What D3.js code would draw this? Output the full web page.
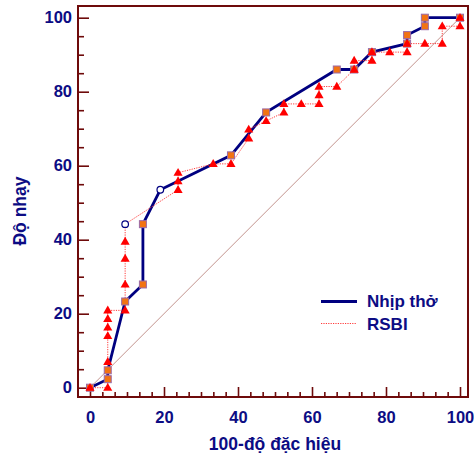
<!DOCTYPE html>
<html>
<head>
<meta charset="utf-8">
<script src="https://cdn.jsdelivr.net/npm/d3@7"></script>
<style>
  body { margin: 0; background: #fff; }
  svg { display: block; font-family: "Liberation Sans", Arial, sans-serif; }
</style>
</head>
<body>
<div id="chart"></div>
<script>
// Nhip tho: ROC curve (100 - specificity, sensitivity)
let nhipX = [0, 4.8, 4.8, 9.5, 14.3, 14.3, 19, 38.1, 47.6, 66.7, 71.4, 76.2, 85.7, 85.7, 90.5, 90.5, 100];
let nhipY = [0, 2.3, 4.7, 23.3, 27.9, 44.2, 53.5, 62.8, 74.4, 86, 86, 90.7, 93, 95.3, 97.7, 100, 100];
let nhipCut = 6; // index of the open circle (cut-off point)

// RSBI: ROC curve
let rsbiX = [0, 4.8, 4.8, 4.8, 4.8, 4.8, 4.8, 9.5, 9.5, 9.5, 9.5, 9.5, 23.8, 23.8, 23.8, 33.3, 38.1, 42.9, 42.9,
             47.6, 52.4, 52.4, 57.1, 61.9, 61.9, 61.9, 66.7, 71.4, 71.4, 76.2, 76.2, 81, 85.7, 85.7, 90.5, 95.2, 95.2, 100, 100];
let rsbiY = [0, 0, 7, 14, 16.3, 18.6, 20.9, 20.9, 27.9, 34.9, 39.5, 44.2, 53.5, 55.8, 58.1, 60.5, 60.5, 67.4, 69.8,
             72.1, 74.4, 76.7, 76.7, 76.7, 79.1, 81.4, 81.4, 86, 88.4, 88.4, 90.7, 90.7, 90.7, 93, 93, 93, 97.7, 97.7, 100];
let rsbiCut = 11;

let majorTicks = [0, 20, 40, 60, 80, 100];
let legendNames = ["Nhịp thở", "RSBI"];

let navy = "#000080";
let textColour = "#0c0c84";
let frameColour = "#6e0a0a";
let redColour = "#ff0000";
let dotColour = "#ff3a3a";

const width = 474, height = 455;
const box = {left: 78, right: 468, top: 6, bottom: 397};

var svg = d3.select("#chart").append("svg")
    .attr("width", width)
    .attr("height", height);

var x = d3.scaleLinear().domain([0, 100]).range([90, 460]);
var y = d3.scaleLinear().domain([0, 100]).range([387.7, 17.7]);

let xMinor = d3.range(0, 101, 20).flatMap(m => [1, 2, 3, 4, 5].map(k => m + k * 20 / 6)).filter(v => v < 102);
let yMinor = d3.range(5, 101, 5).filter(v => v % 20 != 0);

// axes (ticks point inward)
var gx = svg.append("g").attr("transform", "translate(0," + box.bottom + ")");
gx.call(d3.axisBottom(x).tickValues(majorTicks).tickSize(-10).tickPadding(14));
gx.append("g").call(d3.axisBottom(x).tickValues(xMinor).tickSize(-5).tickFormat(""));

var gy = svg.append("g").attr("transform", "translate(" + box.left + ",0)");
gy.call(d3.axisLeft(y).tickValues(majorTicks).tickSize(-11).tickPadding(6));
gy.append("g").call(d3.axisLeft(y).tickValues(yMinor).tickSize(-6).tickFormat(""));

svg.selectAll(".domain").remove();
svg.selectAll(".tick line").attr("stroke", frameColour).attr("stroke-width", 1.6);
svg.selectAll(".tick text")
    .attr("fill", textColour)
    .style("font-size", "16.5px")
    .style("font-weight", "bold")
    .style("font-family", "'Liberation Sans', Arial, sans-serif");

// frame
svg.append("rect")
    .attr("x", box.left).attr("y", box.top)
    .attr("width", box.right - box.left).attr("height", box.bottom - box.top)
    .attr("fill", "none")
    .attr("stroke", frameColour)
    .attr("stroke-width", 2);

// diagonal reference
svg.append("line")
    .attr("x1", x(0)).attr("y1", y(0))
    .attr("x2", x(100)).attr("y2", y(100))
    .attr("stroke", "#a8645c")
    .attr("stroke-width", 0.7);

var line = d3.line().x(d => x(d[0])).y(d => y(d[1]));
let nhip = nhipX.map((v, i) => [v, nhipY[i]]);
let rsbi = rsbiX.map((v, i) => [v, rsbiY[i]]);

svg.append("path")
    .attr("d", line(nhip))
    .attr("fill", "none")
    .attr("stroke", navy)
    .attr("stroke-width", 2.8);

svg.append("path")
    .attr("d", line(rsbi))
    .attr("fill", "none")
    .attr("stroke", dotColour)
    .attr("stroke-width", 1)
    .attr("stroke-dasharray", "1.2,1.2");

// squares on nhip tho
svg.append("g").selectAll("rect")
    .data(nhip.filter((d, i) => i != nhipCut))
    .enter().append("rect")
    .attr("x", d => x(d[0]) - 3.5)
    .attr("y", d => y(d[1]) - 3.5)
    .attr("width", 7).attr("height", 7)
    .attr("fill", "#f27312")
    .attr("stroke", "#9a6aa8")
    .attr("stroke-width", 1);

// triangles on RSBI
svg.append("g").selectAll("path")
    .data(rsbi.filter((d, i) => i != rsbiCut))
    .enter().append("path")
    .attr("d", d3.symbol().type(d3.symbolTriangle).size(36))
    .attr("transform", d => "translate(" + x(d[0]) + "," + (y(d[1]) + 0.5) + ")")
    .attr("fill", redColour);

// open circles at cut-off points
svg.append("g").selectAll("circle")
    .data([nhip[nhipCut], rsbi[rsbiCut]])
    .enter().append("circle")
    .attr("cx", d => x(d[0]))
    .attr("cy", d => y(d[1]))
    .attr("r", 3.3)
    .attr("fill", "#fff")
    .attr("stroke", navy)
    .attr("stroke-width", 1.2);

// legend
var legend = svg.append("g");
legend.append("line")
    .attr("x1", 321).attr("x2", 357).attr("y1", 301.5).attr("y2", 301.5)
    .attr("stroke", navy).attr("stroke-width", 2.8);
legend.append("line")
    .attr("x1", 321).attr("x2", 357).attr("y1", 323.5).attr("y2", 323.5)
    .attr("stroke", dotColour).attr("stroke-width", 1)
    .attr("stroke-dasharray", "1.2,1.2");
legend.selectAll("text")
    .data(legendNames)
    .enter().append("text")
    .attr("x", 367)
    .attr("y", (d, i) => 307 + i * 22.5)
    .attr("fill", textColour)
    .style("font-size", "17px")
    .style("font-weight", "bold")
    .text(d => d);

// axis titles
svg.append("text")
    .attr("x", (box.left + box.right) / 2 + 2)
    .attr("y", 450)
    .attr("text-anchor", "middle")
    .attr("fill", textColour)
    .style("font-size", "17.5px")
    .style("font-weight", "bold")
    .text("100-độ đặc hiệu");

svg.append("text")
    .attr("transform", "translate(26,211) rotate(-90)")
    .attr("text-anchor", "middle")
    .attr("fill", textColour)
    .style("font-size", "17.5px")
    .style("font-weight", "bold")
    .text("Độ nhạy");
</script>
</body>
</html>
